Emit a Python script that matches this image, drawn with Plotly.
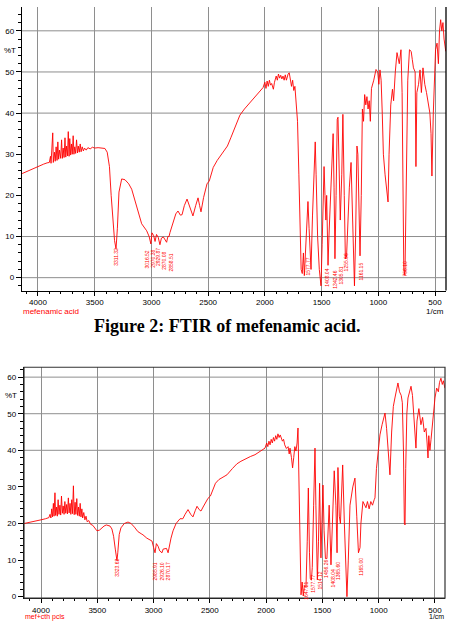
import plotly.graph_objects as go

# ---------------- DATA ----------------
# Spectrum 1: mefenamic acid  (wavenumber 1/cm, %T)
MEF_WN = [4140, 4100, 4050, 4000, 3950, 3920, 3900, 3890, 3885, 3870, 3865, 3855, 3848, 3840, 3832,
          3825, 3818, 3810, 3800, 3792, 3785, 3778, 3770, 3762, 3755, 3748, 3740, 3733, 3726, 3720,
          3712, 3705, 3698, 3690, 3683, 3676, 3668, 3660, 3652, 3645, 3636, 3628, 3620, 3610, 3600,
          3590, 3575, 3560, 3540, 3520, 3500, 3470, 3440, 3410, 3390, 3370, 3355, 3340, 3325, 3312,
          3300, 3286, 3262, 3233, 3200, 3174, 3130, 3086, 3042, 3020, 3005, 2995, 2980, 2968, 2955,
          2940, 2925, 2912, 2895, 2880, 2866, 2855, 2845, 2836, 2810, 2785, 2766, 2745, 2730, 2710,
          2686, 2660, 2634, 2610, 2589, 2575, 2563, 2540, 2510, 2490, 2470, 2455, 2420, 2380, 2330,
          2300, 2260, 2220, 2180, 2140, 2100, 2060, 2016,
          2000, 1990, 1980, 1970, 1960, 1950, 1940, 1925, 1915, 1900, 1890, 1880, 1870, 1860, 1850,
          1840, 1830, 1820, 1810, 1795, 1785, 1775, 1765, 1755, 1745, 1735, 1725, 1712, 1700, 1690,
          1680, 1670, 1660, 1652, 1640, 1630, 1620, 1610, 1600, 1593, 1580, 1565, 1556, 1548, 1535,
          1520, 1505, 1495, 1485, 1478, 1470, 1462, 1455, 1448, 1443, 1435, 1425, 1415, 1405, 1398,
          1390, 1382, 1372, 1362, 1355, 1345, 1335, 1322, 1312, 1300, 1290, 1280, 1270, 1255, 1240,
          1225, 1210, 1200, 1195, 1188, 1180, 1172, 1161, 1150, 1140, 1130, 1120, 1110, 1100, 1090,
          1080, 1070, 1060, 1040, 1020, 1005, 995, 985, 975, 965, 955, 940, 925, 914, 905,
          890, 875, 865, 850, 835, 815, 800, 790, 782, 775, 765, 755, 740, 725, 710,
          700, 690, 675, 668, 660, 645, 632, 620, 606, 590, 575, 562, 545, 535, 527,
          515, 505, 495, 482, 470, 460, 450, 440, 430, 420, 405]
MEF_T = [25.3, 25.8, 26.5, 27.0, 27.6, 27.9, 28.0, 29.5, 27.8, 35.2, 28.0, 30.5, 28.3, 31.8, 28.5,
         33.0, 28.8, 31.0, 29.0, 33.5, 29.0, 31.5, 29.2, 34.0, 29.3, 32.0, 29.6, 35.5, 29.5, 33.8,
         29.8, 32.5, 30.0, 34.5, 30.0, 31.8, 30.2, 33.5, 30.3, 32.0, 30.5, 32.5, 30.6, 31.8, 30.8,
         31.5, 31.0, 31.6, 31.3, 31.7, 31.5, 31.6, 31.5, 31.4, 30.5, 27.0, 20.0, 14.0, 9.0, 7.0,
         12.0, 20.8, 24.0, 23.8, 22.8, 21.5, 17.4, 13.1, 11.4, 10.0, 8.2, 10.9, 10.2, 8.8, 10.5,
         9.8, 8.0, 9.6, 9.9, 9.3, 8.6, 10.0, 10.0, 11.0, 13.5, 15.5, 16.2, 15.2, 15.3, 17.5,
         19.1, 16.8, 15.0, 17.5, 19.4, 17.5, 16.0, 19.5, 22.8, 23.5, 25.5, 26.8, 28.5, 30.0, 32.0,
         34.0, 37.0, 39.5, 41.0, 42.3, 43.5, 44.8, 46.2,
         47.5, 46.0, 47.8, 46.5, 48.0, 46.8, 47.2, 45.8, 47.5, 49.0, 48.0, 49.5, 48.5, 49.2, 48.3,
         49.0, 48.0, 49.3, 48.0, 49.5, 49.8, 48.0, 46.5, 48.0, 45.5, 46.5, 43.0, 38.0, 25.0, 10.0,
         2.0, 1.0, 6.0, 0.5, 8.0, 15.0, 18.5, 12.0, 3.0, 2.0, 15.0, 28.0, 33.0, 25.0, 10.0,
         2.0, -2.0, 8.0, 22.0, 27.0, 20.0, 14.0, 20.0, 8.0, 3.0, 10.0, 18.0, 21.0, 33.0, 35.0,
         22.0, 4.6, 20.0, 38.5, 39.0, 25.0, 14.0, 25.0, 39.7, 20.0, 4.6, 5.0, 12.0, 22.0, 28.0,
         12.0, -2.0, 10.0, 25.6, 32.0, 30.0, 15.0, 5.3, 20.0, 41.0, 38.0, 44.5, 42.0, 44.0, 41.0,
         43.0, 38.0, 46.0, 48.0, 50.6, 50.0, 47.0, 50.5, 48.0, 40.0, 30.0, 25.0, 20.0, 18.4, 30.0,
         42.0, 45.8, 43.0, 50.0, 54.7, 52.0, 55.4, 45.0, 20.0, 2.0, 0.5, 20.0, 48.0, 55.4, 55.0,
         53.0, 51.0, 50.0, 27.0, 45.0, 47.0, 50.5, 45.0, 51.0, 47.0, 45.0, 43.0, 40.0, 35.0, 24.7,
         40.0, 50.0, 55.4, 57.0, 52.0, 60.0, 62.7, 60.0, 62.0, 58.0, 55.0]

# Spectrum 2: mefenamic acid preparation (wavenumber 1/cm, %T)
MIX_WN = [4150, 4100, 4050, 4000, 3960, 3930, 3920, 3912, 3905, 3898, 3890, 3884, 3876, 3870, 3862,
          3855, 3848, 3840, 3832, 3825, 3818, 3810, 3803, 3795, 3788, 3780, 3772, 3765, 3757, 3750,
          3742, 3735, 3727, 3720, 3712, 3705, 3697, 3690, 3682, 3675, 3667, 3660, 3652, 3645, 3637,
          3630, 3620, 3610, 3600, 3590, 3575, 3560, 3540, 3520, 3503, 3480, 3460, 3440, 3420, 3400,
          3387, 3370, 3355, 3340, 3330, 3325, 3318, 3305, 3290, 3260, 3227, 3200, 3170, 3140, 3110,
          3094, 3060, 3030, 3014, 3000, 2987, 2975, 2960, 2945, 2925, 2915, 2900, 2885, 2871, 2860,
          2845, 2827, 2800, 2765, 2740, 2720, 2694, 2670, 2650, 2630, 2614, 2595, 2579, 2560, 2543,
          2516, 2495, 2470, 2450, 2420, 2380, 2348, 2300, 2260, 2224, 2180, 2140, 2099, 2060, 2030,
          2010, 1995, 1985, 1975, 1965, 1955, 1945, 1935, 1925, 1915, 1905, 1895, 1885, 1875, 1865,
          1855, 1845, 1835, 1820, 1805, 1795, 1788, 1775, 1765, 1755, 1745, 1735, 1725, 1717, 1712,
          1705, 1698, 1690, 1680, 1670, 1660, 1646, 1635, 1625, 1615, 1608, 1598, 1590, 1578, 1566,
          1558, 1545, 1535, 1525, 1513, 1505, 1495, 1485, 1473, 1460, 1450, 1440, 1424, 1410, 1395,
          1380, 1370, 1362, 1350, 1340, 1335, 1320, 1305, 1292, 1282, 1270, 1255, 1230, 1211, 1195,
          1180, 1166, 1158, 1140, 1125, 1113, 1100, 1085, 1070, 1055, 1040, 1033, 1020, 1005, 989,
          970, 955, 944, 930, 915, 900, 885, 870, 856, 840, 829, 815, 800, 790, 780,
          772, 766, 760, 750, 740, 725, 713, 700, 690, 680, 669, 660, 643, 625, 610,
          595, 580, 570, 562, 555, 545, 535, 520, 505, 500, 485, 470, 460, 447, 435,
          425, 412]
MIX_T = [20.0, 20.4, 20.8, 21.0, 21.3, 21.6, 22.5, 21.5, 24.0, 21.8, 25.5, 22.0, 28.4, 22.2, 24.5,
         22.0, 26.5, 22.5, 25.0, 22.3, 27.5, 22.8, 24.8, 22.5, 26.0, 22.8, 25.2, 22.6, 27.0, 22.9,
         25.5, 22.5, 26.5, 22.7, 30.3, 22.4, 25.8, 22.5, 26.8, 22.2, 24.5, 22.0, 25.5, 21.8, 24.0,
         21.5, 23.0, 21.0, 22.0, 20.5, 20.8, 19.8, 19.5, 18.5, 18.0, 18.2, 18.8, 19.3, 19.6, 19.4,
         19.3, 18.5, 16.5, 13.0, 10.0, 9.8, 12.0, 17.0, 18.8, 20.0, 20.4, 20.0, 19.0, 17.8, 17.2,
         16.9, 16.0, 15.5, 15.2, 13.5, 12.0, 14.5, 13.8, 12.5, 12.0, 13.0, 13.0, 13.2, 12.0, 14.0,
         16.0, 18.0, 20.0, 21.3, 21.3, 22.5, 23.8, 22.5, 21.8, 23.5, 24.7, 23.8, 23.4, 24.5, 25.6,
         26.9, 27.5, 29.5, 31.0, 32.0, 32.8, 33.3, 35.0, 36.3, 37.0, 37.8, 38.3, 38.8, 39.5, 40.2,
         40.6, 42.0, 41.0, 42.5, 41.5, 43.0, 42.0, 43.5, 42.5, 44.0, 43.0, 44.5, 43.5, 44.2, 43.5,
         42.5, 43.0, 41.5, 40.5, 41.0, 39.0, 40.6, 38.0, 35.2, 38.0, 41.0, 39.8, 42.0, 46.1, 38.0,
         20.0, 5.0, 0.5, 4.0, 0.2, 3.0, 2.5, 15.0, 29.7, 12.0, 5.0, 4.5, 8.0, 25.0, 40.6,
         25.0, 4.6, 15.0, 31.0, 10.6, 20.0, 30.5, 18.0, 10.4, 10.4, 20.0, 25.0, 8.7, 20.0, 34.4,
         25.0, 12.0, 35.3, 22.0, 20.0, 23.4, 36.0, 20.0, 5.0, 0.0, 10.0, 25.0, 30.0, 32.4, 22.0,
         12.0, 13.4, 20.0, 26.0, 25.0, 24.3, 26.0, 24.0, 26.0, 25.0, 26.5, 27.0, 35.0, 40.0, 44.2,
         47.0, 49.0, 50.2, 46.0, 40.0, 33.3, 45.0, 52.0, 54.3, 57.0, 58.4, 56.0, 55.0, 53.0, 40.0,
         20.0, 19.6, 35.0, 50.0, 54.3, 56.0, 57.5, 55.0, 50.0, 45.0, 40.6, 48.0, 51.4, 47.0, 49.0,
         45.0, 46.0, 42.0, 37.9, 44.0, 40.0, 43.0, 48.0, 52.0, 54.3, 57.0, 56.0, 58.5, 59.7, 58.0,
         59.0, 57.0]

X_TICKS = [4000, 3500, 3000, 2500, 2000, 1500, 1000, 500]
Y_TICKS = [0, 10, 20, 30, 40, 50, 60]

MEF_PEAK_WN = [3311, 3040, 2986, 2942, 2889, 2827, 1725, 1664, 1620, 1558, 1505, 1452, 1382, 1329, 1285, 1218, 1152, 765]
MEF_PEAK_TXT = ["3311.32", "3016.52", "2970.38", "2929.87", "2870.08", "2858.51", "1649.14", "1616.35",
                "1577.77", "1504.48", "1454.33", "1408.04", "1342.46", "1305.81", "1255.66", "1218.12",
                "1161.15", "756.10"]
MIX_PEAK_WN = [3325, 2987, 2925, 2872, 1699, 1646, 1584, 1522, 1468, 1406, 1362, 1273, 1157]
MIX_PEAK_TXT = ["3323.62", "2985.91", "2926.10", "2870.17", "1699.34", "1647.21", "1577.77",
                "1514.12", "1456.26", "1408.04", "1365.60", "1259.52", "1165.00"]

# ---------------- LAYOUT ----------------
W, H = 455, 631
MEF_LABEL_Y = [5.1, 4.4, 4.6, 5.0, 4.1, 3.7, -4.4, -4.4, 2.7, -4.4, -3.5, 0.0, -0.5, 0.5, 3.7, -4.4, 1.5, 2.2]
MIX_LABEL_Y = [7.9, 6.9, 6.9, 6.9, -2.3, 1.6, 3.5, 4.4, 7.6, 5.0, 7.0, -2.3, 8.2]


def py(p):
    return 1 - p / H


def px(p):
    return p / W


fig = go.Figure()
fig.add_trace(go.Scatter(x=MEF_WN, y=MEF_T, mode="lines", xaxis="x", yaxis="y",
                         line=dict(color="#ff0000", width=0.9), showlegend=False))
fig.add_trace(go.Scatter(x=MIX_WN, y=MIX_T, mode="lines", xaxis="x2", yaxis="y2",
                         line=dict(color="#ff0000", width=0.9), showlegend=False))

tickfont = dict(family="Liberation Sans, Arial", size=8, color="#000")
grid_col = "#8e8e8e"


def xaxis_cfg(dom, rng, anchor):
    return dict(domain=dom, range=rng, anchor=anchor, tickvals=X_TICKS,
                ticktext=[str(v) for v in X_TICKS], showgrid=True, gridcolor=grid_col, gridwidth=1,
                ticks="outside", ticklen=4, tickcolor="#000", tickwidth=1,
                showline=True, linecolor="#000", linewidth=1, zeroline=False,
                minor=dict(dtick=100, ticks="outside", ticklen=2, tickcolor="#000", showgrid=False),
                tickfont=tickfont)


def yaxis_cfg(dom, rng, anchor):
    return dict(domain=dom, range=rng, anchor=anchor, tickvals=Y_TICKS,
                ticktext=[str(v) for v in Y_TICKS], showgrid=False,
                ticks="outside", ticklen=5, tickcolor="#000", tickwidth=1,
                showline=True, linecolor="#000", linewidth=1.3, zeroline=False,
                minor=dict(dtick=2, ticks="outside", ticklen=3, tickcolor="#000", showgrid=False),
                tickfont=tickfont)


fig.update_layout(
    width=W, height=H, margin=dict(l=0, r=0, t=0, b=0),
    paper_bgcolor="white", plot_bgcolor="white",
    xaxis=xaxis_cfg([px(22), px(446)], [4141, 403], "y"),
    yaxis=yaxis_cfg([py(292), py(7)], [-3.15, 65.8], "x"),
    xaxis2=xaxis_cfg([px(24), px(445)], [4151, 411], "y2"),
    yaxis2=yaxis_cfg([py(601), py(369)], [-0.4, 62.7], "x2"),
)

shapes = []
for v in [0, 10, 40, 50, 60]:
    shapes.append(dict(type="line", xref="x domain", yref="y", x0=0, x1=1, y0=v, y1=v,
                       line=dict(color=grid_col, width=1), layer="below"))
for v in [20, 40, 50, 60]:
    shapes.append(dict(type="line", xref="x2 domain", yref="y2", x0=0, x1=1, y0=v, y1=v,
                       line=dict(color=grid_col, width=1), layer="below"))
shapes.append(dict(type="line", xref="x domain", yref="y domain", x0=1, x1=1, y0=0, y1=1,
                   line=dict(color="#000", width=1.3)))
shapes.append(dict(type="rect", xref="x2 domain", yref="y2 domain", x0=0, x1=1, y0=0, y1=1,
                   line=dict(color="#333", width=1.2)))
fig.update_layout(shapes=shapes)

ann = []
small = dict(family="Liberation Sans, Arial", size=8, color="#000")
small7 = dict(family="Liberation Sans, Arial", size=7, color="#000")
ann.append(dict(text="%T", x=px(2), y=py(51), xref="paper", yref="paper", xanchor="left",
                yanchor="middle", showarrow=False, font=small))
ann.append(dict(text="%T", x=px(3), y=py(397), xref="paper", yref="paper", xanchor="left",
                yanchor="middle", showarrow=False, font=small))
ann.append(dict(text="1/cm", x=px(446), y=py(312.5), xref="paper", yref="paper", xanchor="right",
                yanchor="middle", showarrow=False, font=small))
ann.append(dict(text="1/cm", x=px(446), y=py(619.5), xref="paper", yref="paper", xanchor="right",
                yanchor="middle", showarrow=False, font=small7))
redf = dict(family="Liberation Sans, Arial", size=8, color="#ff0000")
redf7 = dict(family="Liberation Sans, Arial", size=7, color="#ff0000")
ann.append(dict(text="mefenamic acid", x=px(21), y=py(312.5), xref="paper", yref="paper",
                xanchor="left", yanchor="middle", showarrow=False, font=redf))
ann.append(dict(text="mef+cth pcls", x=px(23), y=py(619.5), xref="paper", yref="paper",
                xanchor="left", yanchor="middle", showarrow=False, font=redf7))
capf = dict(family="Liberation Serif, Times New Roman", size=18, color="#000")
ann.append(dict(text="<b>Figure 2: FTIR of mefenamic acid.</b>", x=0.5, y=py(328), xref="paper",
                yref="paper", xanchor="center", yanchor="middle", showarrow=False, font=capf))
ann.append(dict(text="<b>Figure 3: FTIR of mefenamic acid and chitosan pellets.</b>", x=0.5,
                y=py(630), xref="paper", yref="paper", xanchor="center", yanchor="top",
                showarrow=False, font=capf))

pk = dict(family="Liberation Sans, Arial", size=5, color="#ff0000")
for wn, t, yy in zip(MEF_PEAK_WN, MEF_PEAK_TXT, MEF_LABEL_Y):
    ann.append(dict(text=t, x=wn, y=yy, xref="x", yref="y", textangle=-90, showarrow=False,
                    font=pk, xanchor="center", yanchor="middle"))
for wn, t, yy in zip(MIX_PEAK_WN, MIX_PEAK_TXT, MIX_LABEL_Y):
    ann.append(dict(text=t, x=wn, y=yy, xref="x2", yref="y2", textangle=-90, showarrow=False,
                    font=pk, xanchor="center", yanchor="middle"))
fig.update_layout(annotations=ann)

fig.write_html("out.html")
